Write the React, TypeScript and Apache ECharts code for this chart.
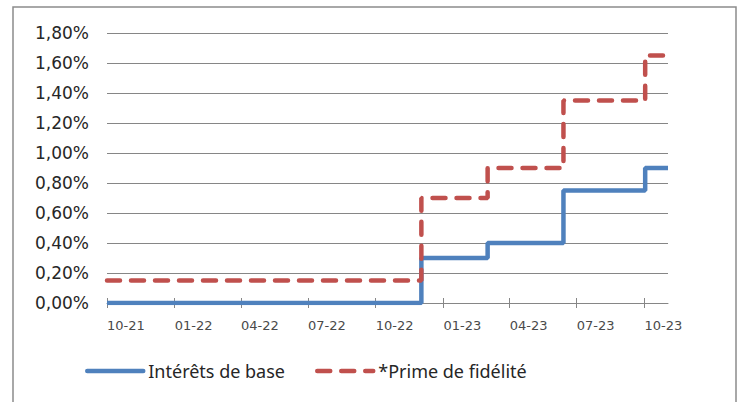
import React, { useEffect, useRef } from "react";
import * as echarts from "echarts";

const seriesNames = ["Intérêts de base", "*Prime de fidélité"];
const stepDates = ["2021-10-01", "2022-12-02", "2023-03-02", "2023-06-13", "2023-10-02", "2023-11-02"];
const baseRates = [0.0, 0.3, 0.4, 0.75, 0.9, 0.9];
const loyaltyRates = [0.15, 0.7, 0.9, 1.35, 1.65, 1.65];
const tickDates = ["2021-10-01", "2022-01-01", "2022-04-01", "2022-07-01", "2022-10-01", "2023-01-01", "2023-04-01", "2023-07-01", "2023-10-01"];
const axisStart = "2021-10-01";
const axisEnd = "2023-11-02";

function ts(s: string): number {
  const [y, m, d] = s.split("-").map(Number);
  return new Date(y, m - 1, d).getTime();
}

function fmtDate(v: number): string {
  const d = new Date(v);
  const mm = String(d.getMonth() + 1).padStart(2, "0");
  const yy = String(d.getFullYear() % 100).padStart(2, "0");
  return mm + "-" + yy;
}

export default function App() {
  const ref = useRef<HTMLDivElement>(null);
  useEffect(() => {
    if (!ref.current) return;
    const chart = echarts.init(ref.current, undefined, { renderer: "svg" });
    const ticks = tickDates.map(ts);
    const gray = "#868686";
    chart.setOption({
      animation: false,
      backgroundColor: "#ffffff",
      grid: { left: 107, right: 71, top: 33, bottom: 99 },
      graphic: [
        {
          type: "rect",
          shape: { x: 13, y: 7, width: 723, height: 420 },
          style: { fill: "none", stroke: "#8c8c8c", lineWidth: 1.5 },
          silent: true,
        },
      ],
      legend: {
        left: 80,
        top: 357,
        itemWidth: 56,
        itemHeight: 14,
        itemGap: 30,
        itemStyle: { color: "transparent", borderWidth: 0, opacity: 0 },
        lineStyle: { width: 4.5, cap: "round" },
        textStyle: { fontFamily: "Noto Sans", fontSize: 18, color: "#262626" },
        data: seriesNames,
      },
      xAxis: [
        {
          type: "value",
          min: ts(axisStart),
          max: ts(axisEnd),
          axisLine: { show: true, lineStyle: { color: gray, width: 1 } },
          axisTick: { show: true, length: 5, customValues: ticks, lineStyle: { color: gray } },
          axisLabel: {
            customValues: ticks,
            formatter: (v: number) => fmtDate(v),
            align: "left",
            margin: 16,
            fontFamily: "DejaVu Sans",
            fontSize: 13,
            color: "#4a4a4a",
          },
          splitLine: { show: false },
        },
        {
          type: "value",
          position: "bottom",
          min: ts(axisStart),
          max: ts(axisEnd),
          axisLine: { show: false },
          axisTick: { show: true, inside: true, length: 5, customValues: ticks, lineStyle: { color: gray } },
          axisLabel: { show: false },
          splitLine: { show: false },
        },
      ],
      yAxis: {
        type: "value",
        min: 0,
        max: 1.8,
        interval: 0.2,
        axisLine: { show: false },
        axisTick: { show: false },
        axisLabel: {
          formatter: (v: number) => v.toFixed(2).replace(".", ",") + "%",
          margin: 18,
          fontFamily: "DejaVu Sans",
          fontSize: 17,
          color: "#262626",
        },
        splitLine: { show: true, lineStyle: { color: gray, width: 1 } },
      },
      series: [
        {
          name: seriesNames[0],
          type: "line",
          step: "end",
          showSymbol: false,
          symbol: "none",
          data: stepDates.map((d, i) => [ts(d), baseRates[i]]),
          lineStyle: { color: "#4F81BD", width: 4.5 },
          itemStyle: { color: "#4F81BD" },
        },
        {
          name: seriesNames[1],
          type: "line",
          step: "end",
          showSymbol: false,
          symbol: "none",
          data: stepDates.map((d, i) => [ts(d), loyaltyRates[i]]),
          lineStyle: { color: "#C0504D", width: 4.5, type: [13, 11], cap: "round" },
          itemStyle: { color: "#C0504D" },
        },
      ],
    });
    return () => chart.dispose();
  }, []);
  return (
    <div
      ref={ref}
      style={{ position: "absolute", left: 0, top: 0, width: 739, height: 402 }}
    />
  );
}
